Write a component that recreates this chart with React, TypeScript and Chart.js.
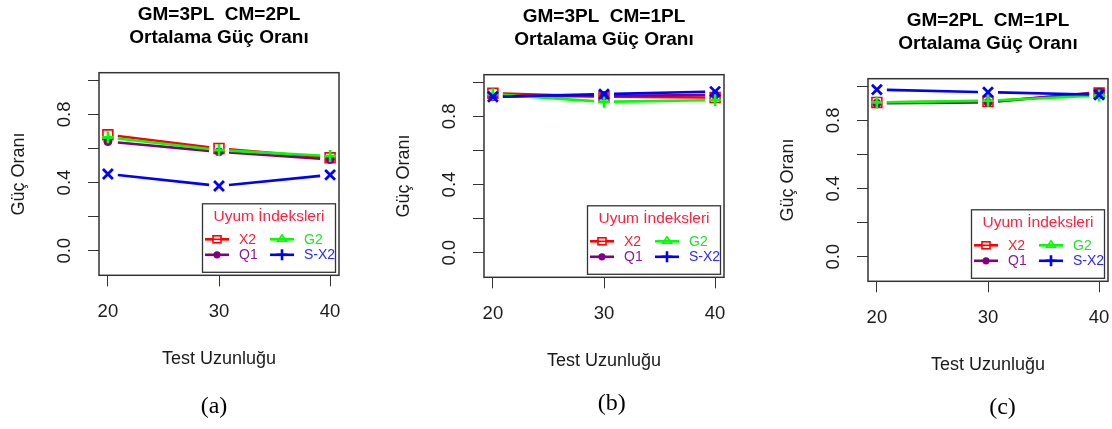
import React, { useEffect, useRef } from 'react';
import { Chart, registerables } from 'chart.js';

Chart.register(...registerables);

// ---------- data ----------
const testLengths = [20, 30, 40];
const xTickLabels = ['20', '30', '40'];
const yTickValues = [0, 0.2, 0.4, 0.6, 0.8, 1.0];
const yTickLabels = ['0.0', '', '0.4', '', '0.8', ''];

const seriesNames = ['X2', 'Q1', 'G2', 'S-X2'];
const seriesColors = ['#ff0000', '#800080', '#00ff00', '#0000ff'];
const legendTextColors = ['#ff1a2a', '#8a1a96', '#22e22a', '#2a2aff'];

// panel (a) GM=3PL CM=2PL
const panelA_X2 = [0.68, 0.6, 0.545];
const panelA_Q1 = [0.64, 0.58, 0.535];
const panelA_G2 = [0.665, 0.59, 0.555];
const panelA_SX2 = [0.45, 0.38, 0.445];

// panel (b) GM=3PL CM=1PL
const panelB_X2 = [0.935, 0.915, 0.91];
const panelB_Q1 = [0.915, 0.92, 0.925];
const panelB_G2 = [0.93, 0.885, 0.895];
const panelB_SX2 = [0.915, 0.93, 0.945];

// panel (c) GM=2PL CM=1PL
const panelC_X2 = [0.905, 0.91, 0.96];
const panelC_Q1 = [0.9, 0.905, 0.965];
const panelC_G2 = [0.905, 0.915, 0.945];
const panelC_SX2 = [0.98, 0.965, 0.95];

const panelTitles = [
  ['GM=3PL  CM=2PL', 'Ortalama Güç Oranı'],
  ['GM=3PL  CM=1PL', 'Ortalama Güç Oranı'],
  ['GM=2PL  CM=1PL', 'Ortalama Güç Oranı'],
];
const captions = ['(a)', '(b)', '(c)'];
const xAxisTitle = 'Test Uzunluğu';
const yAxisTitle = 'Güç Oranı';
const legendTitle = 'Uyum İndeksleri';

// ---------- styles ----------
const FONT = '"Liberation Sans", Arial, sans-serif';
const pointStyles = ['rect', 'circle', 'cross', 'crossRot'];
const pointRadii = [7, 4, 6, 7];
const pointBorderWidths = [1.6, 1, 2.6, 2.8];
const pointFills = ['rgba(0,0,0,0)', '#800080', '#00ff00', '#0000ff'];
const drawOrder = [4, 3, 2, 1];
const legendMarkers = ['square', 'dot', 'triangle', 'plus'];
const LINE_W = 2.6;
const POINT_GAP = 10;

const CW = 385;
const CH = 400;

// R type="b" lines: segments between the library-placed points, leaving a gap round each point
const gapLinePlugin = {
  id: 'gapLines',
  beforeDatasetsDraw(chart: any) {
    const { ctx } = chart;
    const metas = chart.getSortedVisibleDatasetMetas();
    for (let k = metas.length - 1; k >= 0; k--) {
      const meta = metas[k];
      const ds = chart.data.datasets[meta.index];
      const pts = meta.data;
      ctx.save();
      ctx.strokeStyle = ds.borderColor;
      ctx.lineWidth = LINE_W;
      ctx.lineCap = 'butt';
      for (let j = 0; j < pts.length - 1; j++) {
        const p = pts[j];
        const q = pts[j + 1];
        const dx = q.x - p.x;
        const dy = q.y - p.y;
        const len = Math.hypot(dx, dy);
        if (len <= 2 * POINT_GAP) continue;
        const ux = dx / len;
        const uy = dy / len;
        ctx.beginPath();
        ctx.moveTo(p.x + ux * POINT_GAP, p.y + uy * POINT_GAP);
        ctx.lineTo(q.x - ux * POINT_GAP, q.y - uy * POINT_GAP);
        ctx.stroke();
      }
      ctx.restore();
    }
  },
};

const boxPlugin = {
  id: 'rBox',
  afterDatasetsDraw(chart: any) {
    const { ctx, chartArea: a } = chart;
    ctx.save();
    ctx.strokeStyle = '#333';
    ctx.lineWidth = 1.5;
    ctx.strokeRect(a.left, a.top, a.right - a.left, a.bottom - a.top);
    ctx.restore();
  },
};

function drawMarker(ctx: CanvasRenderingContext2D, kind: string, x: number, y: number, color: string) {
  ctx.save();
  ctx.strokeStyle = color;
  ctx.fillStyle = color;
  if (kind === 'square') {
    ctx.lineWidth = 1.6;
    ctx.fillStyle = '#fff';
    ctx.fillRect(x - 4, y - 3.5, 8, 7);
    ctx.strokeRect(x - 4, y - 3.5, 8, 7);
    ctx.beginPath();
    ctx.moveTo(x - 4, y);
    ctx.lineTo(x + 4, y);
    ctx.stroke();
  } else if (kind === 'dot') {
    ctx.beginPath();
    ctx.arc(x, y, 3.6, 0, Math.PI * 2);
    ctx.fill();
  } else if (kind === 'triangle') {
    ctx.lineWidth = 1.6;
    ctx.beginPath();
    ctx.moveTo(x, y - 4.5);
    ctx.lineTo(x + 4.5, y + 2);
    ctx.lineTo(x - 4.5, y + 2);
    ctx.closePath();
    ctx.stroke();
  } else if (kind === 'plus') {
    ctx.lineWidth = 2.6;
    ctx.beginPath();
    ctx.moveTo(x - 5.5, y);
    ctx.lineTo(x + 5.5, y);
    ctx.moveTo(x, y - 5.5);
    ctx.lineTo(x, y + 5.5);
    ctx.stroke();
  }
  ctx.restore();
}

const legendPlugin = {
  id: 'rLegend',
  afterDraw(chart: any) {
    const { ctx, chartArea: a } = chart;
    const w = 133;
    const h = 68.5;
    const L = a.right - 3.5 - w;
    const T = a.bottom - 3 - h;
    ctx.save();
    ctx.fillStyle = '#fff';
    ctx.fillRect(L, T, w, h);
    ctx.strokeStyle = '#333';
    ctx.lineWidth = 1.3;
    ctx.strokeRect(L, T, w, h);
    ctx.textAlign = 'center';
    ctx.textBaseline = 'middle';
    ctx.font = `15.5px ${FONT}`;
    ctx.fillStyle = '#ff2040';
    ctx.fillText(legendTitle, L + w / 2, T + 13);
    ctx.font = `14px ${FONT}`;
    ctx.textAlign = 'left';
    chart.data.datasets.forEach((ds: any, i: number) => {
      const col = Math.floor(i / 2);
      const row = i % 2;
      const x0 = L + (col === 0 ? 2.5 : 67.5);
      const y = T + (row === 0 ? 35.5 : 51);
      ctx.strokeStyle = ds.borderColor;
      ctx.lineWidth = LINE_W;
      ctx.beginPath();
      ctx.moveTo(x0, y);
      ctx.lineTo(x0 + 24, y);
      ctx.stroke();
      drawMarker(ctx, legendMarkers[i], x0 + 12, y, ds.borderColor);
      ctx.fillStyle = legendTextColors[i];
      ctx.fillText(ds.label, x0 + 34, y + 0.5);
    });
    ctx.restore();
  },
};

function Panel({ left, top, title, series }: { left: number; top: number; title: string[]; series: number[][] }) {
  const ref = useRef<HTMLCanvasElement>(null);
  useEffect(() => {
    const chart = new Chart(ref.current as HTMLCanvasElement, {
      type: 'line',
      data: {
        datasets: series.map((vals, i) => ({
          label: seriesNames[i],
          data: testLengths.map((x, j) => ({ x, y: vals[j] })),
          borderColor: seriesColors[i],
          backgroundColor: pointFills[i],
          pointBackgroundColor: pointFills[i],
          pointBorderColor: seriesColors[i],
          borderWidth: LINE_W,
          showLine: false,
          pointStyle: pointStyles[i] as any,
          pointRadius: pointRadii[i],
          pointBorderWidth: pointBorderWidths[i],
          order: drawOrder[i],
          tension: 0,
          fill: false,
        })),
      },
      options: {
        animation: false,
        responsive: false,
        devicePixelRatio: 1,
        layout: { padding: { left: 0, right: 46, top: 0, bottom: 0 } },
        plugins: {
          legend: { display: false },
          tooltip: { enabled: false },
          title: {
            display: true,
            text: title,
            fullSize: false,
            color: '#000',
            font: { family: FONT, size: 19, weight: 'bold', lineHeight: 1.2 },
            padding: { top: 3.6, bottom: 23.5 },
          },
        },
        scales: {
          x: {
            type: 'linear',
            min: 19.2,
            max: 40.8,
            afterBuildTicks: (s: any) => {
              s.ticks = testLengths.map((v) => ({ value: v }));
            },
            afterFit: (s: any) => {
              s.height = CH - 275.3;
              s.paddingLeft = 0;
              s.paddingRight = 0;
            },
            ticks: {
              autoSkip: false,
              minRotation: 0,
              maxRotation: 0,
              padding: 14.5,
              color: '#1a1a1a',
              font: { family: FONT, size: 18.5, lineHeight: 1.2 },
              callback: (_v: any, i: number) => xTickLabels[i],
            },
            grid: { drawOnChartArea: false, drawTicks: true, tickLength: 11, color: '#333', lineWidth: 1 },
            border: { display: false },
            title: {
              display: true,
              text: xAxisTitle,
              color: '#1a1a1a',
              font: { family: FONT, size: 18, lineHeight: 1.2 },
              padding: { top: 0, bottom: 30.5 },
            },
          },
          y: {
            type: 'linear',
            min: -0.144,
            max: 1.044,
            afterBuildTicks: (s: any) => {
              s.ticks = yTickValues.map((v) => ({ value: v }));
            },
            afterFit: (s: any) => {
              s.width = 99;
              s.paddingTop = 0;
              s.paddingBottom = 0;
            },
            ticks: {
              autoSkip: false,
              minRotation: 90,
              maxRotation: 90,
              crossAlign: 'center',
              padding: 10,
              color: '#1a1a1a',
              font: { family: FONT, size: 18.5, lineHeight: 1.2 },
              callback: (_v: any, i: number) => yTickLabels[i],
            },
            grid: { drawOnChartArea: false, drawTicks: true, tickLength: 11, color: '#333', lineWidth: 1 },
            border: { display: false },
            title: {
              display: true,
              text: yAxisTitle,
              color: '#1a1a1a',
              font: { family: FONT, size: 18, lineHeight: 1.2 },
              padding: { top: 8, bottom: 0 },
            },
          },
        },
      } as any,
      plugins: [gapLinePlugin, boxPlugin, legendPlugin],
    });
    return () => chart.destroy();
  }, []);
  return (
    <canvas
      ref={ref}
      width={CW}
      height={CH}
      style={{ position: 'absolute', left, top, width: CW, height: CH }}
    />
  );
}

const panelOffsets = [
  { left: 0, top: 0 },
  { left: 385, top: 2 },
  { left: 769, top: 6 },
];
const captionCenters = [
  { x: 214, y: 408 },
  { x: 611.7, y: 405 },
  { x: 1002.5, y: 409 },
];

export default function App() {
  const panelSeries = [
    [panelA_X2, panelA_Q1, panelA_G2, panelA_SX2],
    [panelB_X2, panelB_Q1, panelB_G2, panelB_SX2],
    [panelC_X2, panelC_Q1, panelC_G2, panelC_SX2],
  ];
  return (
    <div
      style={{
        position: 'absolute',
        left: 0,
        top: 0,
        width: 1112,
        height: 429,
        overflow: 'hidden',
        background: '#fff',
      }}
    >
      {panelSeries.map((s, i) => (
        <Panel key={i} left={panelOffsets[i].left} top={panelOffsets[i].top} title={panelTitles[i]} series={s} />
      ))}
      {captions.map((c, i) => (
        <div
          key={c}
          style={{
            position: 'absolute',
            left: captionCenters[i].x,
            top: captionCenters[i].y - 16.6,
            transform: 'translateX(-50%)',
            fontFamily: '"Liberation Serif", "Times New Roman", serif',
            fontSize: 24,
            lineHeight: '28px',
            color: '#000',
            whiteSpace: 'nowrap',
          }}
        >
          {c}
        </div>
      ))}
    </div>
  );
}
